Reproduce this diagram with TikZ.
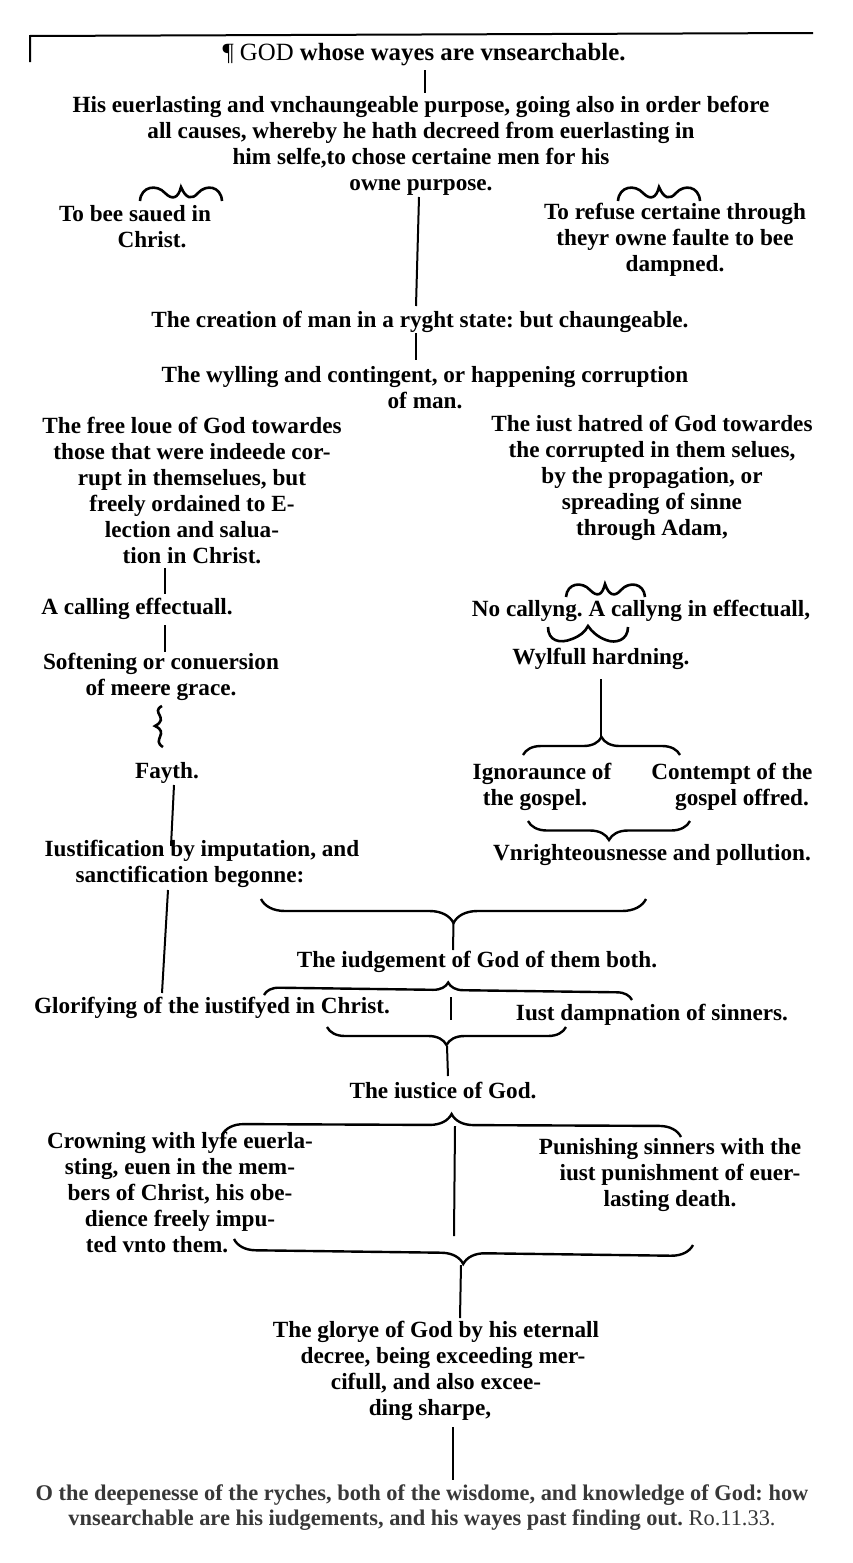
\documentclass[tikz,border=0pt]{standalone}
\usepackage{fontspec}
\setmainfont{Liberation Serif}
\usetikzlibrary{decorations.pathreplacing}
\frenchspacing
\begin{document}
\begin{tikzpicture}[x=0.5pt,y=-0.5pt,
  txt/.style={font=\fontsize{11.6}{13}\selectfont\bfseries, align=center, inner sep=0pt},
  conn/.style={line width=1pt},
  obrace/.style={line width=1.2pt, decorate, decoration={brace, amplitude=#1}},
  squig/.style={line width=1.3pt}]
\fill[white] (0,0) rectangle (852,1563);
\useasboundingbox (0,0) rectangle (852,1563);
% frame fragment
\coordinate (fr0) at (30,62); \coordinate (fr1) at (30,36); \coordinate (fr2) at (813,33);
\draw[line width=1pt] (fr0) -- (fr1) -- (fr2);
% texts
\node[txt, font=\fontsize{12.4}{13}\selectfont\bfseries] (title) at (424,55) {{\mdseries\P\ GOD} whose wayes are vnsearchable.};
\node[txt] (purpose) at (421,145.5) {His euerlasting and vnchaungeable purpose, going also in order before\\all causes, whereby he hath decreed from euerlasting in\\him selfe,to chose certaine men for his\\owne purpose.};
\node[txt] (saved) at (135,226.5) {To bee saued in\\\hspace*{17pt}Christ.};
\node[txt] (refuse) at (675,239.5) {To refuse certaine through\\theyr owne faulte to bee\\dampned.};
\node[txt] (creation) at (420,322) {The creation of man in a ryght state: but chaungeable.};
\node[txt] (wylling) at (425,387.5) {The wylling and contingent, or happening corruption\\of man.};
\node[txt] (freelove) at (192,490) {The free loue of God towardes\\those that were indeede cor-\\rupt in themselues, but\\freely ordained to E-\\lection and salua-\\tion in Christ.};
\node[txt] (hatred) at (652,477.5) {The iust hatred of God towardes\\the corrupted in them selues,\\by the propagation, or\\spreading of sinne\\through Adam,};
\node[txt] (calling) at (137,609) {A calling effectuall.};
\node[txt] (nocalling) at (641,611) {No callyng. A callyng in effectuall,};
\node[txt] (softening) at (161,676.5) {Softening or conuersion\\of meere grace.};
\node[txt] (wylfull) at (601,659) {Wylfull hardning.};
\node[txt] (fayth) at (167,773) {Fayth.};
\node[txt] (ignorance) at (542,786.5) {Ignoraunce of\\the gospel.\hspace*{7pt}};
\node[txt] (contempt) at (732,786.5) {Contempt of the\\\hspace*{10pt}gospel offred.};
\node[txt] (iustif) at (202,863.5) {Iustification by imputation, and\\sanctification begonne:\hspace*{12pt}};
\node[txt] (vnright) at (652,855) {Vnrighteousnesse and pollution.};
\node[txt] (iudgement) at (477,962) {The iudgement of God of them both.};
\node[txt] (glorify) at (212,1008) {Glorifying of the iustifyed in Christ.};
\node[txt] (dampn) at (652,1015) {Iust dampnation of sinners.};
\node[txt] (iustice) at (443,1090) {The iustice of God.};
\node[txt] (crowning) at (180,1192.5) {Crowning with lyfe euerla-\\sting, euen in the mem-\hspace*{5pt}\\bers of Christ, his obe-\hspace*{5pt}\\dience freely impu-\hspace*{9pt}\\ted vnto them.\hspace*{23pt}};
\node[txt] (punishing) at (670,1175) {Punishing sinners with the\\\hspace*{10pt}iust punishment of euer-\\lasting death.};
\node[txt] (glorye) at (436,1371) {The glorye of God by his eternall\\\hspace*{7pt}decree, being exceeding mer-\\cifull, and also excee-\\ding sharpe,\hspace*{6pt}};
\node[txt, font=\fontsize{11.2}{12.5}\selectfont\bfseries, text=black!78] (bottom) at (422,1507.5) {O the deepenesse of the ryches, both of the wisdome, and knowledge of God: how\\vnsearchable are his iudgements, and his wayes past finding out. {\mdseries Ro.11.33.}};
% vertical connectors
\coordinate (a1) at (425,70);  \coordinate (a2) at (425,93);
\coordinate (b1) at (419,197); \coordinate (b2) at (416,306);
\coordinate (c1) at (416,333); \coordinate (c2) at (416,360);
\coordinate (d1) at (165,568); \coordinate (d2) at (165,594);
\coordinate (e1) at (165,625); \coordinate (e2) at (165,652);
\coordinate (f1) at (174,785); \coordinate (f2) at (171,846);
\coordinate (g1) at (168,890); \coordinate (g2) at (162,993);
\draw[conn] (a1) -- (a2);
\draw[conn] (b1) -- (b2);
\draw[conn] (c1) -- (c2);
\draw[conn] (d1) -- (d2);
\draw[conn] (e1) -- (e2);
\draw[conn] (f1) -- (f2);
\draw[conn] (g1) -- (g2);
% squiggle between softening and fayth
\coordinate (s1) at (162,706); \coordinate (s2) at (163,747);
\draw[squig] (s1) .. controls (150,712) and (170,718) .. (155,726) .. controls (170,733) and (151,740) .. (s2);
% small tilde braces
\coordinate (t1a) at (140,201); \coordinate (t1b) at (222,201);
\draw[squig] (t1a) .. controls (141,186) and (157,184) .. (165,193) .. controls (172,200) and (178,199) .. (181,187) .. controls (186,199) and (192,200) .. (198,193) .. controls (206,184) and (221,186) .. (t1b);
\coordinate (t2a) at (618,201); \coordinate (t2b) at (700,201);
\draw[squig] (t2a) .. controls (619,186) and (635,184) .. (643,193) .. controls (650,200) and (656,199) .. (659,187) .. controls (664,199) and (670,200) .. (676,193) .. controls (684,184) and (699,186) .. (t2b);
\coordinate (t4a) at (566,597); \coordinate (t4b) at (645,597);
\draw[squig] (t4a) .. controls (567,583) and (582,581) .. (590,590) .. controls (597,597) and (602,596) .. (605,584) .. controls (609,596) and (615,597) .. (621,590) .. controls (629,581) and (644,583) .. (t4b);
\coordinate (t3a) at (548,627); \coordinate (t3b) at (628,627);
\draw[squig] (t3a) .. controls (548,641) and (560,644) .. (572,639) .. controls (580,636) and (585,632) .. (588,626) .. controls (592,632) and (598,637) .. (606,640) .. controls (616,644) and (628,640) .. (t3b);
% hardning to braces
\coordinate (h1) at (601,679); \coordinate (b1tip) at (601,737);
\draw[conn] (h1) -- (b1tip);
\coordinate (B1l) at (523,755); \coordinate (B1r) at (680,755);
\draw[obrace=9pt] (B1l) -- (B1r);
\coordinate (B2l) at (528,821); \coordinate (B2r) at (690,821);
\draw[obrace=9.5pt] (B2r) -- (B2l);
% big brace under iustification / vnright
\coordinate (B3l) at (261,899); \coordinate (B3r) at (646,899);
\draw[obrace=12pt] (B3r) -- (B3l);
\coordinate (b3tip) at (453.5,923); \coordinate (i1) at (453,950);
\draw[conn] (b3tip) -- (i1);
% brace under iudgement
\coordinate (B4l) at (264,995); \coordinate (B4r) at (632,1000);
\draw[obrace=7.5pt] (B4l) -- (B4r);
\coordinate (m1) at (451,997); \coordinate (m2) at (451,1020);
\draw[conn] (m1) -- (m2);
\coordinate (B5l) at (327,1027); \coordinate (B5r) at (566,1027);
\draw[obrace=9pt] (B5r) -- (B5l);
\coordinate (b5tip) at (447,1046); \coordinate (j1) at (448,1076);
\draw[conn] (b5tip) -- (j1);
% brace under iustice
\coordinate (B6l) at (222,1135); \coordinate (B6r) at (681,1137);
\draw[obrace=11pt] (B6l) -- (B6r);
\coordinate (k1) at (455,1126); \coordinate (k2) at (454,1236);
\draw[conn] (k1) -- (k2);
\coordinate (B7l) at (234,1239); \coordinate (B7r) at (693,1245);
\draw[obrace=11pt] (B7r) -- (B7l);
\coordinate (b7tip) at (461,1265); \coordinate (n1) at (460,1318);
\draw[conn] (b7tip) -- (n1);
\coordinate (o1) at (453,1427); \coordinate (o2) at (453,1480);
\draw[conn] (o1) -- (o2);
\end{tikzpicture}
\end{document}
